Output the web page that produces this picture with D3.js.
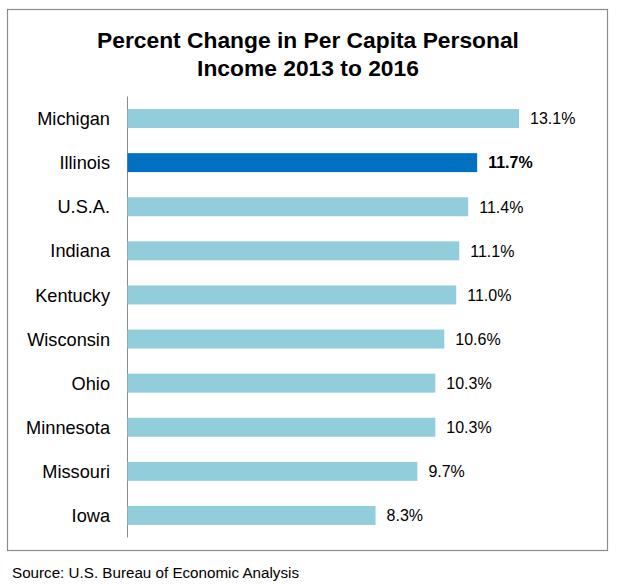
<!DOCTYPE html>
<html><head><meta charset="utf-8">
<script src="https://cdn.jsdelivr.net/npm/d3@7"></script>
<style>body{margin:0;background:#fff}svg{display:block}</style>
</head><body>
<svg id="c" width="617" height="584"></svg>
<script>
const categories = ["Michigan","Illinois","U.S.A.","Indiana","Kentucky","Wisconsin","Ohio","Minnesota","Missouri","Iowa"];
const values = [13.1, 11.7, 11.4, 11.1, 11.0, 10.6, 10.3, 10.3, 9.7, 8.3];
const highlight = "Illinois";
const titleLines = ["Percent Change in Per Capita Personal", "Income 2013 to 2016"];
const source = "Source: U.S. Bureau of Economic Analysis";

const svg = d3.select("#c");
svg.append("rect").attr("x",7.5).attr("y",9.5).attr("width",600).attr("height",541)
  .attr("fill","#fff").attr("stroke","#8c8c8c").attr("stroke-width",1.2);

svg.selectAll("text.title").data(titleLines).enter().append("text")
  .attr("x",308).attr("y",(d,i)=>48+i*28).attr("text-anchor","middle")
  .attr("font-family","Liberation Sans, Arial, sans-serif").attr("font-weight","bold")
  .attr("font-size",22.8).attr("fill","#000").text(d=>d);

const x = d3.scaleLinear().domain([0,13.1]).range([127.5,519]);
const y = d3.scaleBand().domain(categories).range([96.5,537.5]).paddingInner(0.57).paddingOuter(0.285);

svg.append("line").attr("x1",127.5).attr("x2",127.5).attr("y1",96.5).attr("y2",537.5)
  .attr("stroke","#8c8c8c").attr("stroke-width",1);

const data = categories.map((c,i)=>({c, v: values[i]}));
svg.selectAll("rect.bar").data(data).enter().append("rect")
  .attr("x",x(0)).attr("y",d=>y(d.c)).attr("width",d=>x(d.v)-x(0)).attr("height",y.bandwidth())
  .attr("fill",d=>d.c===highlight?"#0070C0":"#92CDDC");

svg.selectAll("text.cat").data(data).enter().append("text")
  .attr("x",110).attr("y",d=>y(d.c)+y.bandwidth()/2).attr("dy","0.36em")
  .attr("text-anchor","end").attr("font-family","Liberation Sans, Arial, sans-serif")
  .attr("font-size",18.2).attr("fill","#000").text(d=>d.c);

svg.selectAll("text.val").data(data).enter().append("text")
  .attr("x",d=>x(d.v)+11).attr("y",d=>y(d.c)+y.bandwidth()/2).attr("dy","0.36em")
  .attr("font-family","Liberation Sans, Arial, sans-serif")
  .attr("font-weight",d=>d.c===highlight?"bold":"normal")
  .attr("font-size",16).attr("fill","#000").text(d=>d.v.toFixed(1)+"%");

svg.append("text").attr("x",12).attr("y",578).attr("font-family","Liberation Sans, Arial, sans-serif")
  .attr("font-size",15.2).attr("fill","#000").text(source);
</script>
</body></html>
